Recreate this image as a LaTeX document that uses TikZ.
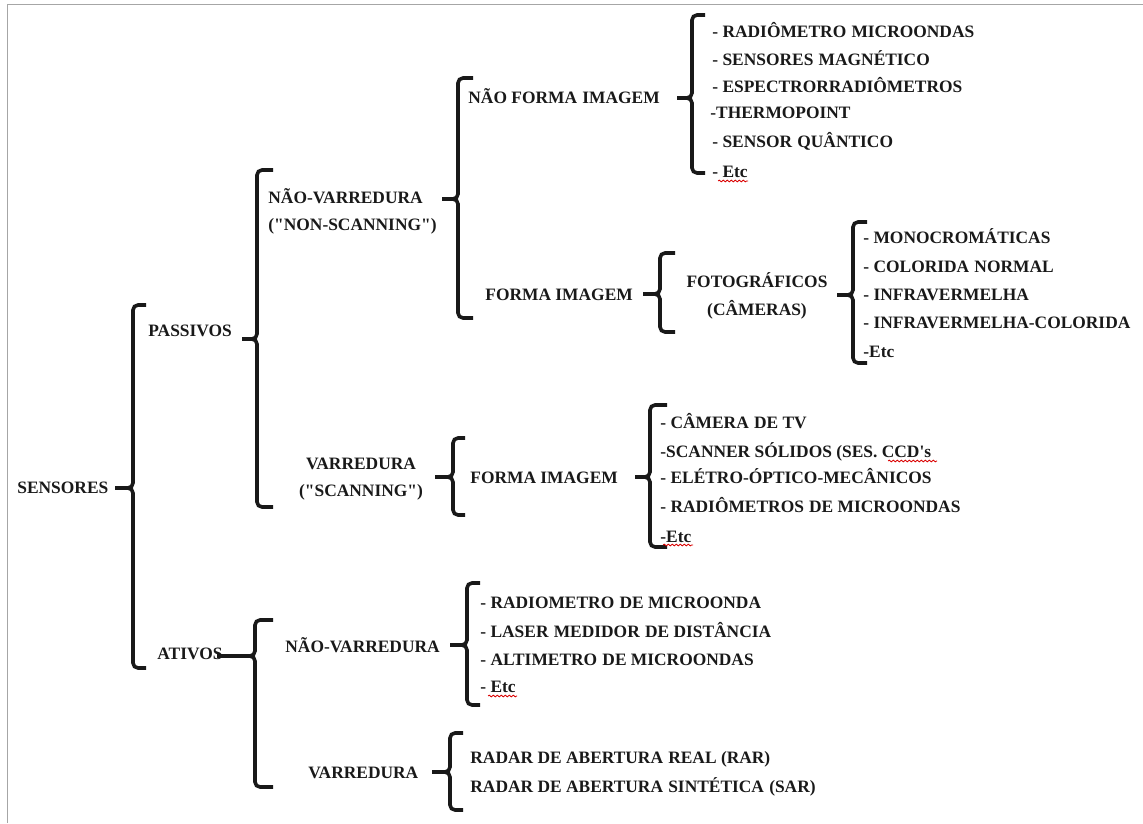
\documentclass[tikz,border=0pt]{standalone}
\usepackage{fontspec}
\setmainfont{Liberation Serif}[Ligatures=TeXOff]
\usetikzlibrary{decorations.pathmorphing}
\newcommand\xsp{\hspace{0.3em}}
\newcommand\mybrk[6]{%
  \draw[brk] (#6,#2) -- (#1,#2) -- (#1,#4) -- (#5,#4);
  \draw[brk] (#5,#4) -- (#1,#4) -- (#1,#3) -- (#6,#3);}
\begin{document}
\begin{tikzpicture}[x=0.5pt,y=-0.5pt,
  lbl/.style={font=\bfseries\fontsize{8.7}{13.5}\selectfont, text=black!90,
    inner sep=0pt, anchor=west, text height=5.8pt, text depth=0pt},
  mlbl/.style={font=\bfseries\fontsize{8.7}{13.8}\selectfont, text=black!90,
    inner sep=0pt},
  brk/.style={line width=1.8pt, rounded corners=2.5pt, black!90},
  spell/.style={red!85!black, line width=0.4pt, decorate,
    decoration={snake, amplitude=0.45pt, segment length=2pt}},
  frame/.style={gray!70, line width=0.9pt}]
\useasboundingbox (0,0) rectangle (1143,823);
\draw[frame] (7.5,823) -- (7.5,4.5) -- (1143,4.5);

% main labels
\node[lbl] (sens) at (17,488) {SENSORES};
\node[lbl] (pas) at (148,331) {PASSIVOS};
\node[lbl] (ati) at (157,654) {ATIVOS};
\node[mlbl, anchor=west, align=left] (nv) at (268,211.5) {NÃO-VARREDURA\\("NON-SCANNING")};
\node[mlbl, align=center] (var) at (361,479) {VARREDURA\\("SCANNING")};
\node[lbl] (nfi) at (468,98) {NÃO FORMA\xsp IMAGEM};
\node[lbl] (fi1) at (485,295) {FORMA IMAGEM};
\node[mlbl, align=center] (foto) at (757,296) {FOTOGRÁFICOS\\(CÂMERAS)};
\node[lbl] (fi2) at (470,478) {FORMA IMAGEM};
\node[lbl] (nv2) at (285,647) {NÃO-VARREDURA};
\node[lbl] (var2) at (308,773) {VARREDURA};

% list 1
\node[lbl] (a1) at (712,32) {- RADIÔMETRO\xsp MICROONDAS};
\node[lbl] (a2) at (712,60) {- SENSORES\xsp MAGNÉTICO};
\node[lbl] (a3) at (712,87) {- ESPECTRORRADIÔMETROS};
\node[lbl] (a4) at (710,113) {-THERMOPOINT};
\node[lbl] (a5) at (712,142) {- SENSOR\xsp QUÂNTICO};
\node[lbl] (a6) at (712,172) {- Etc};
% list 2
\node[lbl] (b1) at (863,238) {- MONOCROMÁTICAS};
\node[lbl] (b2) at (863,267) {- COLORIDA\xsp NORMAL};
\node[lbl] (b3) at (863,295) {- INFRAVERMELHA};
\node[lbl] (b4) at (863,323) {- INFRAVERMELHA-COLORIDA};
\node[lbl] (b5) at (863,352) {-Etc};
% list 3
\node[lbl] (c1) at (660,423) {- CÂMERA\xsp DE TV};
\node[lbl] (c2) at (660,452) {-SCANNER SÓLIDOS (SES. CCD's};
\node[lbl] (c3) at (660,478) {- ELÉTRO-ÓPTICO-MECÂNICOS};
\node[lbl] (c4) at (660,507) {- RADIÔMETROS\xsp DE MICROONDAS};
\node[lbl] (c5) at (660,537) {-Etc};
% list 4
\node[lbl] (d1) at (480,603) {- RADIOMETRO\xsp DE MICROONDA};
\node[lbl] (d2) at (480,632) {- LASER\xsp MEDIDOR\xsp DE DISTÂNCIA};
\node[lbl] (d3) at (480,660) {- ALTIMETRO\xsp DE MICROONDAS};
\node[lbl] (d4) at (480,687) {- Etc};
% list 5
\node[lbl] (e1) at (470,758) {RADAR DE ABERTURA\xsp REAL (RAR)};
\node[lbl] (e2) at (470,787) {RADAR DE ABERTURA\xsp SINTÉTICA\xsp (SAR)};

% brackets: x, top, bottom, tick y, tick x, serif x
\mybrk{133}{305}{668}{488}{115}{146}
\mybrk{257}{170}{507}{339}{242}{273}
\mybrk{255}{620}{787}{656}{217}{273}
\mybrk{458}{78}{318}{199}{442}{473}
\mybrk{692}{15}{173}{98}{677}{705}
\mybrk{660}{253}{332}{294}{643}{675}
\mybrk{853}{222}{363}{295}{837}{867}
\mybrk{453}{438}{515}{477}{435}{465}
\mybrk{650}{405}{547}{477}{635}{667}
\mybrk{467}{583}{705}{645}{450}{480}
\mybrk{450}{733}{810}{772}{432}{463}

% spell-check marks
\draw[spell] (718,181) -- (748,181);
\draw[spell] (663,545) -- (693,545);
\draw[spell] (488,696) -- (517,696);
\draw[spell] (888,461) -- (937,461);
\end{tikzpicture}
\end{document}
